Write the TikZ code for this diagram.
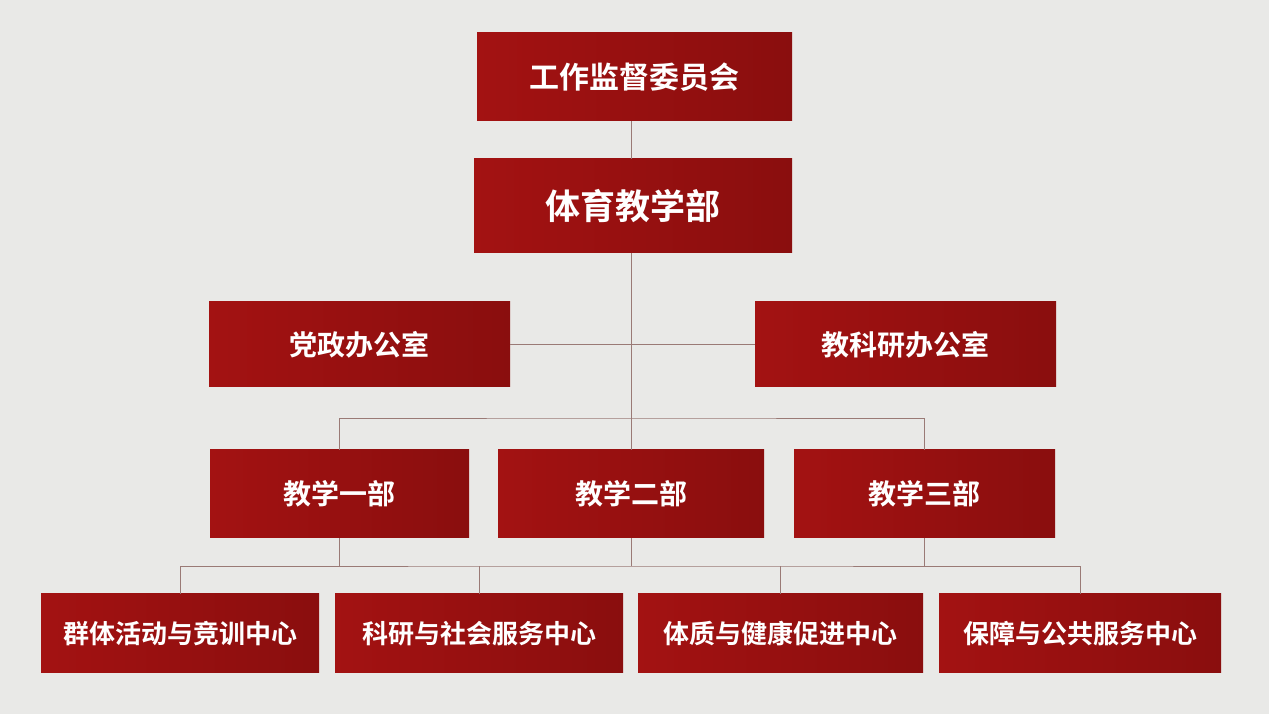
\documentclass[tikz,border=0pt]{standalone}
\usepackage{fontspec}
\setmainfont{Noto Sans CJK SC}[BoldFont={* Bold}]
\definecolor{bg}{HTML}{E9E9E7}
\definecolor{boxred}{HTML}{A31212}
\definecolor{boxdark}{HTML}{8A0E0E}
\definecolor{ln}{HTML}{9A7A76}
\begin{document}
\begin{tikzpicture}[x=1pt,y=1pt,
  box/.style={draw=none,left color=boxred,right color=boxdark,inner sep=0pt},
  lab/.style={text=white,font=\bfseries\fontsize{#1}{#1}\selectfont},
  conn/.style={draw=ln,line width=0.8pt}]
\fill[bg] (0,0) rectangle (1269,714);
\useasboundingbox (0,0) rectangle (1269,714);
\newcommand{\bx}[6]{\node[box,minimum width=#3-#2,minimum height=#5-#4] (#1) at ({(#2+#3)/2},{714-(#4+#5)/2}) {};}
\bx{top}{477}{792}{33}{121}{}\node[lab=30] at (top) {工作监督委员会};
\bx{dept}{474}{792}{159}{253}{}\node[lab=35] at (dept) {体育教学部};
\bx{dz}{209}{510}{302}{387}{}\node[lab=28] at (dz) {党政办公室};
\bx{jk}{755}{1056}{302}{387}{}\node[lab=28] at (jk) {教科研办公室};
\bx{j1}{210}{469}{450}{538}{}\node[lab=28] at (j1) {教学一部};
\bx{j2}{498}{764}{450}{538}{}\node[lab=28] at (j2) {教学二部};
\bx{j3}{794}{1055}{450}{538}{}\node[lab=28] at (j3) {教学三部};
\bx{c1}{41}{319}{594}{673}{}\node[lab=26] at (c1) {群体活动与竞训中心};
\bx{c2}{335}{623}{594}{673}{}\node[lab=26] at (c2) {科研与社会服务中心};
\bx{c3}{638}{923}{594}{673}{}\node[lab=26] at (c3) {体质与健康促进中心};
\bx{c4}{939}{1221}{594}{673}{}\node[lab=26] at (c4) {保障与公共服务中心};
% connectors
\coordinate (axis) at (631,0);
\coordinate (bus) at (631,{714-418});
\coordinate (bb) at (631,{714-566});
\draw[conn] (axis |- top.south) -- (axis |- dept.north);
\draw[conn] (axis |- dept.south) -- (axis |- j2.north);
\draw[conn] (dz.east) -- (jk.west);
\draw[conn] (j1.north) |- (bus) -| (j3.north);
\draw[conn] (j1.south) -- (j1.south |- bb);
\draw[conn] (axis |- j2.south) -- (bb);
\draw[conn] (j3.south) -- (j3.south |- bb);
\draw[conn] (c1.north) |- (bb) -| (c4.north);
\draw[conn] (c2.north) -- (c2.north |- bb);
\draw[conn] (c3.north) -- (c3.north |- bb);
\end{tikzpicture}
\end{document}
